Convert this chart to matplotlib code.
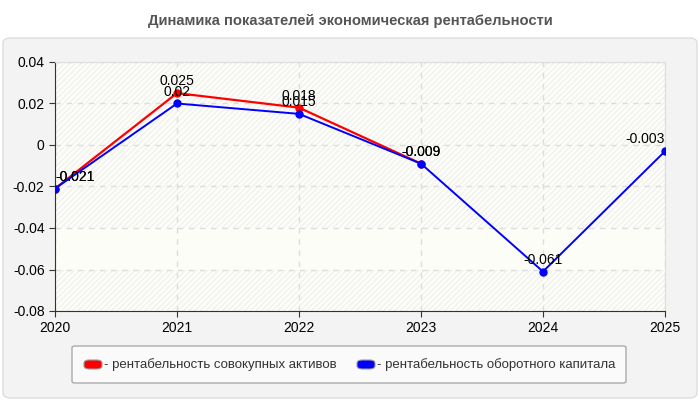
import matplotlib.pyplot as plt
from matplotlib.patches import FancyBboxPatch, Rectangle

plt.rcParams['font.family'] = ['Liberation Sans', 'DejaVu Sans']

years = [2020, 2021, 2022, 2023, 2024, 2025]
assets = [-0.021, 0.025, 0.018, -0.009]
working = [-0.021, 0.02, 0.015, -0.009, -0.061, -0.003]
assets_label = 'рентабельность совокупных активов'
working_label = 'рентабельность оборотного капитала'
title = 'Динамика показателей экономическая рентабельности'

fig = plt.figure(figsize=(7, 4), dpi=100)
fig.patch.set_facecolor('white')

# outer panel
panel = FancyBboxPatch((3 / 700, 2 / 400), 694 / 700, 360 / 400,
                       boxstyle='round,pad=0,rounding_size=0.012',
                       transform=fig.transFigure, facecolor='#f3f3f3',
                       edgecolor='#dddddd', linewidth=1, zorder=-10)
fig.patches.append(panel)

fig.text(0.5, 0.948, title, ha='center', va='center', fontsize=10.6,
         fontweight='bold', color='#555555')

ax = fig.add_axes([55 / 700, 89 / 400, 610 / 700, 249 / 400])
ax.set_zorder(5)
ax.set_facecolor('#fdfdf9')
ax.add_patch(Rectangle((0, 0), 1, 1, transform=ax.transAxes, facecolor='none',
                       edgecolor='#f1f1ed', hatch='//////', linewidth=0, zorder=0))
ax.axhspan(-0.06, -0.04, facecolor='#fdfdf7', edgecolor='none', zorder=0.5)

ax.plot(years[:len(assets)], assets, color='red', lw=1.6, marker='o', ms=5, zorder=3)
ax.plot(years, working, color='blue', lw=1.4, marker='o', ms=5, zorder=4)

def label(x, y, ha='center'):
    ax.annotate(f'{y:g}', (x, y), xytext=(0, 3.5), textcoords='offset points',
                ha=ha, va='bottom', fontsize=10, color='black', zorder=5)

for x, y in zip(years[:len(assets)], assets):
    label(x, y, 'left' if x == years[0] else 'center')
for x, y in zip(years, working):
    ha = 'left' if x == years[0] else ('right' if x == years[-1] else 'center')
    label(x, y, ha)

ax.set_xlim(2020, 2025)
ax.set_ylim(-0.08, 0.04)
ax.set_xticks(years)
ax.set_yticks([-0.08, -0.06, -0.04, -0.02, 0, 0.02, 0.04])
ax.set_yticklabels(['-0.08', '-0.06', '-0.04', '-0.02', '0', '0.02', '0.04'])
ax.tick_params(labelsize=10, colors='#333333', labelcolor='black', length=4)
ax.grid(True, color='#dddddd', linestyle=(0, (4, 4)), linewidth=1)
ax.set_axisbelow(True)
for s in ['top', 'right']:
    ax.spines[s].set_color('#dddddd')
for s in ['left', 'bottom']:
    ax.spines[s].set_color('#333333')

# legend
lbox = FancyBboxPatch((72 / 700, 17 / 400), 554 / 700, 37 / 400,
                      boxstyle='round,pad=0,rounding_size=0.004',
                      transform=fig.transFigure, facecolor='#fafafa',
                      edgecolor='#aaaaaa', linewidth=1, zorder=-5)
fig.patches.append(lbox)
for x0, c, txt in [(84, 'red', assets_label), (357, 'blue', working_label)]:
    fig.patches.append(FancyBboxPatch((x0 / 700, 31 / 400), 18 / 700, 9 / 400,
                                      boxstyle='round,pad=0,rounding_size=0.008',
                                      transform=fig.transFigure, facecolor=c,
                                      edgecolor='#999999', linewidth=0.8))
    fig.text((x0 + 20) / 700, 35.5 / 400, '- ' + txt, ha='left', va='center',
             fontsize=9.5, color='#333333')

fig.savefig('out.png', dpi=100)
